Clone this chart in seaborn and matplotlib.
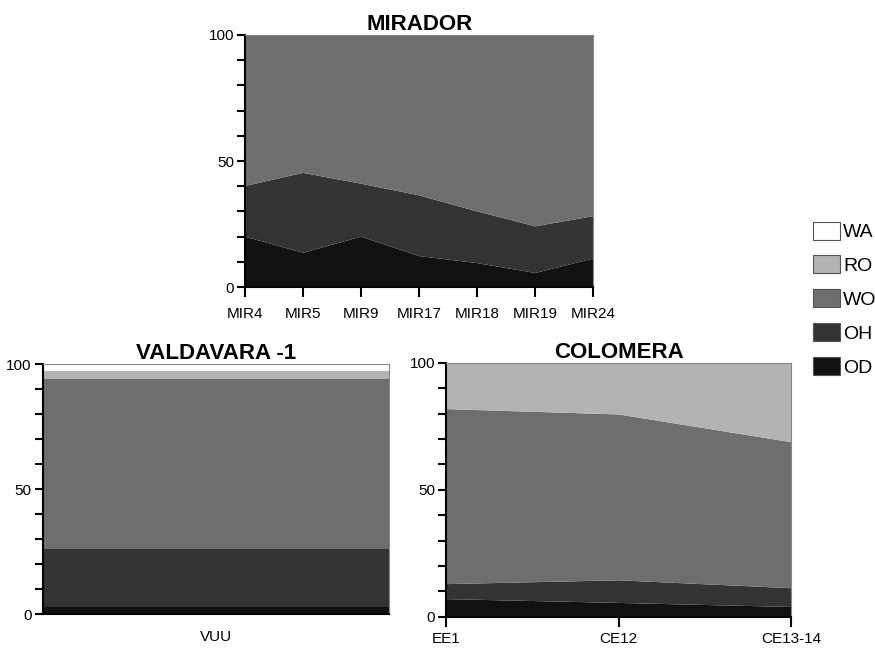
import numpy as np
import seaborn as sns
import matplotlib.pyplot as plt
from matplotlib.patches import Patch

# stacked percentages per component (bottom to top: OD, OH, WO, RO, WA)
components = ['OD', 'OH', 'WO', 'RO', 'WA']
colors = ['#111111', '#333333', '#6e6e6e', '#b3b3b3', '#ffffff']

mirador_sites = ['MIR4', 'MIR5', 'MIR9', 'MIR17', 'MIR18', 'MIR19', 'MIR24']
mirador_od = [20, 13.6, 20, 12.3, 9.5, 5.6, 11.3]
mirador_oh = [20.1, 31.7, 21, 24.1, 20.5, 18.5, 16.8]
mirador_wo = [59.9, 54.7, 59, 63.6, 70, 75.9, 71.9]
mirador_ro = [0, 0, 0, 0, 0, 0, 0]
mirador_wa = [0, 0, 0, 0, 0, 0, 0]

valdavara_sites = ['VUU']
valdavara_od = [3.1]
valdavara_oh = [23.0]
valdavara_wo = [67.9]
valdavara_ro = [3.3]
valdavara_wa = [2.7]

colomera_sites = ['EE1', 'CE12', 'CE13-14']
colomera_od = [7.0, 5.5, 3.9]
colomera_oh = [5.9, 8.9, 7.4]
colomera_wo = [68.9, 65.3, 57.5]
colomera_ro = [18.2, 20.3, 31.2]
colomera_wa = [0, 0, 0]

sns.set_style("ticks")
plt.rcParams['font.family'] = ['Liberation Sans', 'DejaVu Sans']
plt.rcParams['text.color'] = 'black'
plt.rcParams['xtick.color'] = 'black'
plt.rcParams['ytick.color'] = 'black'
plt.rcParams['axes.titlecolor'] = 'black'

fig = plt.figure(figsize=(8.75, 6.48), dpi=100)


def panel(rect, title, sites, layers, single=False, xpad=7):
    ax = fig.add_axes(rect)
    if single:
        x = [-0.5, 0.5]
        ys = [[v[0], v[0]] for v in layers]
    else:
        x = np.arange(len(sites))
        ys = layers
    ax.stackplot(x, *ys, colors=colors, edgecolor='none', linewidth=0)
    ax.set_xlim(x[0], x[-1])
    ax.set_ylim(0, 100)
    ax.set_yticks([0, 50, 100])
    ax.set_yticks(np.arange(0, 101, 10), minor=True)
    ax.tick_params(axis='y', which='major', length=6, width=1.5, labelsize=11, pad=2)
    ax.tick_params(axis='y', which='minor', length=6, width=1.5)
    if single:
        ax.set_xticks([0])
        ax.set_xticklabels(sites)
        ax.tick_params(axis='x', length=0, labelsize=11, pad=xpad)
    else:
        ax.set_xticks(x)
        ax.set_xticklabels(sites)
        ax.tick_params(axis='x', length=7, width=1.5, labelsize=11, pad=xpad)
    for side in ['top', 'right']:
        ax.spines[side].set_color('#888888')
        ax.spines[side].set_linewidth(0.8)
    for side in ['left', 'bottom']:
        ax.spines[side].set_color('black')
        ax.spines[side].set_linewidth(1.5)
    ax.set_title(title, fontsize=16, fontweight='bold', pad=1)
    return ax


panel([0.280, 0.557, 0.398, 0.389], 'MIRADOR', mirador_sites,
      [mirador_od, mirador_oh, mirador_wo, mirador_ro, mirador_wa])
panel([0.049, 0.052, 0.395, 0.386], 'VALDAVARA -1', valdavara_sites,
      [valdavara_od, valdavara_oh, valdavara_wo, valdavara_ro, valdavara_wa],
      single=True, xpad=11)
panel([0.510, 0.048, 0.394, 0.392], 'COLOMERA', colomera_sites,
      [colomera_od, colomera_oh, colomera_wo, colomera_ro, colomera_wa], xpad=4)

handles = [Patch(facecolor=c, edgecolor='#555555', linewidth=0.8, label=n)
           for n, c in zip(components, colors)][::-1]
fig.legend(handles=handles, loc='upper left', bbox_to_anchor=(0.929, 0.658),
           frameon=False, fontsize=14, handlelength=1.4, handleheight=1.05,
           handletextpad=0.15, labelspacing=0.73, borderaxespad=0, borderpad=0)

fig.savefig('out.png', dpi=100)
